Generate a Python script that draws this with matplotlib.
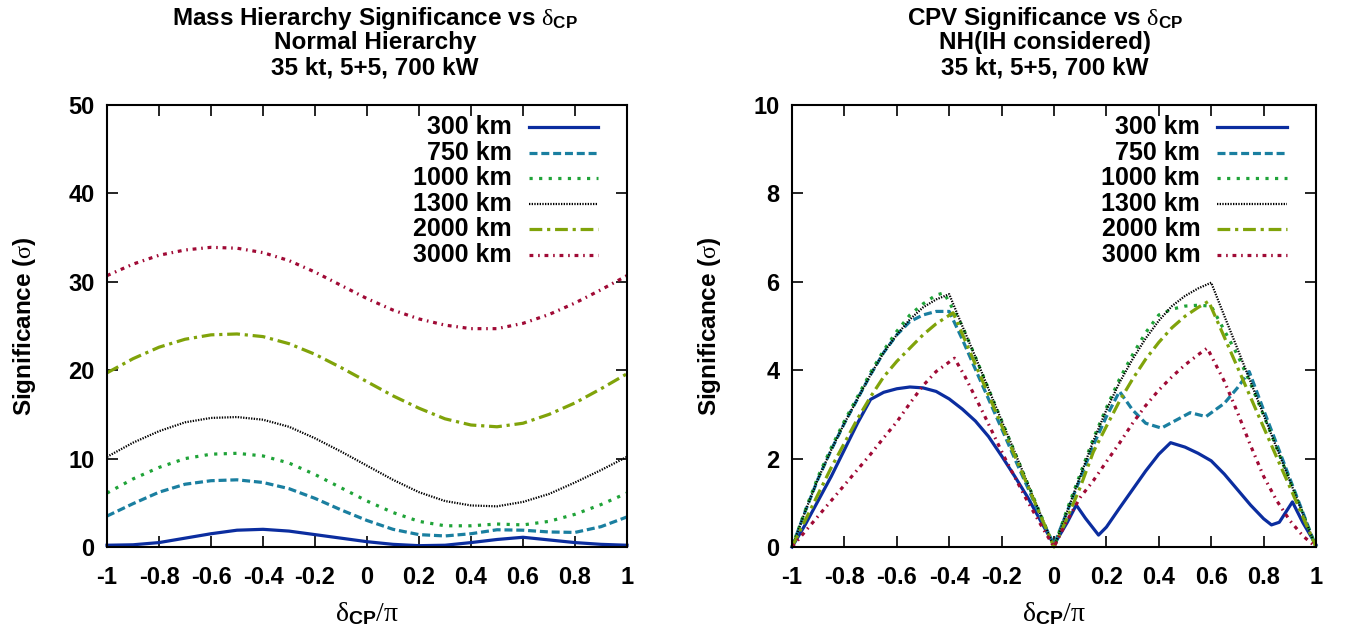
import matplotlib
matplotlib.use("Agg")
import matplotlib.pyplot as plt

plt.rcParams['font.family'] = ['Liberation Sans', 'DejaVu Sans']
plt.rcParams['font.weight'] = 'bold'
plt.rcParams['mathtext.fontset'] = 'custom'
plt.rcParams['mathtext.rm'] = 'Liberation Serif:weight=regular'
plt.rcParams['mathtext.it'] = 'Liberation Serif:weight=regular'
plt.rcParams['mathtext.bf'] = 'Liberation Sans:bold'

# baselines shown in both panels
baselines = ['300 km', '750 km', '1000 km', '1300 km', '2000 km', '3000 km']
xtick_vals = [-1, -0.8, -0.6, -0.4, -0.2, 0, 0.2, 0.4, 0.6, 0.8, 1]
xtick_labels = ['-1', '-0.8', '-0.6', '-0.4', '-0.2', '0', '0.2', '0.4', '0.6', '0.8', '1']

# ---- left panel: mass hierarchy significance ----
mh_dcp = [-1, -0.9, -0.8, -0.7, -0.6, -0.5, -0.4, -0.3, -0.2, -0.1, 0,
          0.1, 0.2, 0.3, 0.4, 0.5, 0.6, 0.7, 0.8, 0.9, 1]
mh_300 = [0.2, 0.25, 0.5, 1.0, 1.5, 1.9, 2.0, 1.8, 1.4, 1.0, 0.6,
          0.3, 0.15, 0.2, 0.5, 0.85, 1.1, 0.8, 0.5, 0.3, 0.2]
mh_750 = [3.5, 4.9, 6.2, 7.1, 7.5, 7.6, 7.3, 6.6, 5.5, 4.2, 3.0,
          2.0, 1.4, 1.25, 1.5, 1.95, 1.9, 1.7, 1.65, 2.3, 3.4]
mh_1000 = [6.1, 7.7, 9.0, 10.0, 10.5, 10.6, 10.3, 9.5, 8.2, 6.7, 5.2,
           3.9, 2.9, 2.4, 2.4, 2.6, 2.5, 2.9, 3.7, 4.8, 6.1]
mh_1300 = [10.2, 11.8, 13.1, 14.1, 14.6, 14.7, 14.4, 13.6, 12.3, 10.8, 9.2,
           7.6, 6.2, 5.2, 4.7, 4.6, 5.1, 6.0, 7.3, 8.7, 10.2]
mh_2000 = [19.7, 21.3, 22.6, 23.5, 24.0, 24.1, 23.8, 23.0, 21.8, 20.3, 18.7,
           17.1, 15.7, 14.5, 13.8, 13.6, 14.0, 15.0, 16.3, 17.9, 19.6]
mh_3000 = [30.7, 32.0, 33.0, 33.6, 33.9, 33.8, 33.3, 32.4, 31.1, 29.6, 28.1,
           26.8, 25.8, 25.1, 24.7, 24.7, 25.3, 26.3, 27.6, 29.1, 30.7]

# ---- right panel: CPV significance ----
cpv_x_300 = [-1, -0.95, -0.9, -0.85, -0.8, -0.75, -0.7, -0.65, -0.6, -0.55, -0.5,
             -0.45, -0.4, -0.35, -0.3, -0.25, -0.2, -0.15, -0.1, -0.05, 0,
             0.05, 0.085, 0.12, 0.17, 0.2, 0.25, 0.3, 0.35, 0.4, 0.445, 0.5,
             0.55, 0.6, 0.65, 0.7, 0.75, 0.8, 0.83, 0.86, 0.91, 0.95, 1]
cpv_300 = [0, 0.5, 1.05, 1.6, 2.2, 2.8, 3.34, 3.5, 3.58, 3.62, 3.6,
           3.52, 3.35, 3.12, 2.85, 2.5, 2.06, 1.6, 1.12, 0.58, 0.05,
           0.55, 0.95, 0.65, 0.27, 0.45, 0.88, 1.3, 1.72, 2.1, 2.36, 2.26,
           2.12, 1.95, 1.65, 1.3, 0.95, 0.64, 0.5, 0.56, 1.02, 0.55, 0.05]

cpv_x_750 = [-1, -0.95, -0.9, -0.85, -0.8, -0.75, -0.7, -0.65, -0.6, -0.55, -0.5,
             -0.45, -0.4, -0.35, -0.3, -0.25, -0.2, -0.15, -0.1, -0.05, 0,
             0.05, 0.1, 0.15, 0.2, 0.25, 0.3, 0.35, 0.41, 0.46, 0.52, 0.58,
             0.65, 0.7, 0.745, 0.8, 0.85, 0.9, 0.95, 1]
cpv_750 = [0, 0.8, 1.55, 2.2, 2.8, 3.35, 3.9, 4.4, 4.8, 5.1, 5.25,
           5.33, 5.33, 4.7, 4.02, 3.35, 2.68, 2.0, 1.34, 0.67, 0.05,
           0.8, 1.55, 2.3, 2.95, 3.52, 3.1, 2.8, 2.69, 2.85, 3.04, 2.95,
           3.25, 3.6, 3.97, 3.1, 2.33, 1.55, 0.78, 0]

cpv_x_1000 = [-1, -0.95, -0.9, -0.85, -0.8, -0.75, -0.7, -0.65, -0.6, -0.55, -0.5,
              -0.45, -0.42, -0.35, -0.3, -0.25, -0.2, -0.15, -0.1, -0.05, 0,
              0.05, 0.1, 0.15, 0.2, 0.25, 0.3, 0.35, 0.4, 0.45, 0.5,
              0.55, 0.6, 0.65, 0.7, 0.75, 0.8, 0.85, 0.9, 0.95, 1]
cpv_1000 = [0, 0.82, 1.6, 2.25, 2.85, 3.4, 3.95, 4.45, 4.88, 5.25, 5.5,
            5.7, 5.75, 5.0, 4.3, 3.58, 2.86, 2.15, 1.43, 0.72, 0,
            0.85, 1.65, 2.45, 3.15, 3.8, 4.35, 4.85, 5.25, 5.38, 5.45,
            5.47, 5.45, 4.9, 4.35, 3.7, 2.98, 2.24, 1.5, 0.75, 0]

cpv_x_1300 = [-1, -0.95, -0.9, -0.85, -0.8, -0.75, -0.7, -0.65, -0.6, -0.55, -0.5,
              -0.45, -0.4, -0.35, -0.3, -0.25, -0.2, -0.15, -0.1, -0.05, 0,
              0.05, 0.1, 0.15, 0.2, 0.25, 0.3, 0.35, 0.4, 0.45, 0.5,
              0.55, 0.6, 0.65, 0.7, 0.75, 0.8, 0.85, 0.9, 0.95, 1]
cpv_1300 = [0, 0.8, 1.55, 2.2, 2.8, 3.35, 3.9, 4.4, 4.8, 5.15, 5.42,
            5.6, 5.72, 5.0, 4.3, 3.58, 2.86, 2.15, 1.43, 0.72, 0,
            0.8, 1.6, 2.4, 3.1, 3.72, 4.25, 4.72, 5.12, 5.45, 5.68,
            5.85, 5.98, 5.23, 4.49, 3.74, 2.99, 2.24, 1.5, 0.75, 0]

cpv_x_2000 = [-1, -0.95, -0.9, -0.85, -0.8, -0.75, -0.7, -0.65, -0.6, -0.55, -0.5,
              -0.45, -0.385, -0.35, -0.3, -0.25, -0.2, -0.15, -0.1, -0.05, 0,
              0.05, 0.1, 0.15, 0.2, 0.25, 0.3, 0.35, 0.4, 0.45, 0.5,
              0.55, 0.59, 0.65, 0.7, 0.75, 0.8, 0.85, 0.9, 0.95, 1]
cpv_2000 = [0, 0.6, 1.2, 1.8, 2.35, 2.9, 3.4, 3.85, 4.2, 4.5, 4.8,
            5.05, 5.3, 4.82, 4.13, 3.44, 2.75, 2.07, 1.38, 0.69, 0,
            0.65, 1.35, 2.15, 2.73, 3.3, 3.8, 4.25, 4.63, 4.96, 5.22,
            5.42, 5.56, 4.75, 4.07, 3.39, 2.71, 2.03, 1.36, 0.68, 0]

cpv_x_3000 = [-1, -0.95, -0.9, -0.85, -0.8, -0.75, -0.7, -0.65, -0.6, -0.55, -0.5,
              -0.45, -0.38, -0.34, -0.27, -0.19, -0.11, -0.05, 0,
              0.05, 0.1, 0.15, 0.2, 0.25, 0.3, 0.35, 0.4, 0.45, 0.5,
              0.55, 0.585, 0.65, 0.7, 0.75, 0.8, 0.85, 0.9, 0.95, 1]
cpv_3000 = [0, 0.35, 0.7, 1.05, 1.4, 1.75, 2.1, 2.47, 2.83, 3.25, 3.65,
            3.97, 4.27, 3.86, 3.03, 2.04, 1.13, 0.5, 0,
            0.6, 1.12, 1.5, 1.93, 2.35, 2.8, 3.2, 3.55, 3.85, 4.12,
            4.35, 4.5, 3.75, 3.05, 2.3, 1.6, 1.05, 0.6, 0.25, 0]

# line styles, gnuplot-like
styles = [
    dict(color='#0b2d9f', lw=2.3, ls='-'),
    dict(color='#1a7fa0', lw=2.3, ls=(0, (2.5, 1.2))),
    dict(color='#1fa338', lw=2.3, ls=(0, (1, 2))),
    dict(color='#000000', lw=1.6, ls=(0, (0.6, 0.6))),
    dict(color='#80a30a', lw=2.3, ls=(0, (4, 1.5, 1, 1.5))),
    dict(color='#a00a35', lw=2.3, ls=(0, (1.2, 1.5, 0.5, 1.5))),
]

fig = plt.figure(figsize=(13.48, 6.35), dpi=100)
ax1 = fig.add_axes([107 / 1348, 88 / 635, 520 / 1348, 442 / 635])
ax2 = fig.add_axes([792 / 1348, 88 / 635, 524 / 1348, 442 / 635])


def style_axes(ax, ymax, ystep):
    ax.set_xlim(-1, 1)
    ax.set_ylim(0, ymax)
    ax.set_xticks(xtick_vals)
    ax.set_xticklabels(xtick_labels)
    ax.set_yticks(range(0, ymax + 1, ystep))
    ax.tick_params(direction='in', length=8, width=1.2, top=True, right=True,
                   labelsize=17)
    ax.tick_params(axis='x', pad=14)
    ax.tick_params(axis='y', pad=9)
    for lab in ax.get_xticklabels() + ax.get_yticklabels():
        lab.set_fontweight('bold')
    for sp in ax.spines.values():
        sp.set_linewidth(1.5)
    ax.set_xlabel(r'$\delta_{\mathbf{CP}}/\pi$', fontsize=20, labelpad=8)
    ax.set_ylabel(r'Significance ($\sigma$)', fontsize=17.5, fontweight='bold', labelpad=22)


def draw_key(ax):
    for i, (lab, st) in enumerate(zip(baselines, styles)):
        y = 0.950 - i * 0.0577
        ax.text(0.779, y, lab, transform=ax.transAxes, ha='right', va='center',
                fontsize=18, fontweight='bold')
        ax.plot([0.812, 0.944], [y, y], transform=ax.transAxes, **st)


mh_series = [mh_300, mh_750, mh_1000, mh_1300, mh_2000, mh_3000]
for vals, st in zip(mh_series, styles):
    ax1.plot(mh_dcp, vals, clip_on=False, **st)
style_axes(ax1, 50, 10)
draw_key(ax1)

cpv_series = [(cpv_x_300, cpv_300), (cpv_x_750, cpv_750), (cpv_x_1000, cpv_1000),
              (cpv_x_1300, cpv_1300), (cpv_x_2000, cpv_2000), (cpv_x_3000, cpv_3000)]
for (xs, vals), st in zip(cpv_series, styles):
    ax2.plot(xs, vals, clip_on=False, **st)
style_axes(ax2, 10, 2)
draw_key(ax2)

# titles, three lines each
left_title = [r'Mass Hierarchy Significance vs $\delta_{\mathbf{CP}}$',
              'Normal Hierarchy', '35 kt, 5+5, 700 kW']
right_title = [r'CPV Significance vs $\delta_{\mathbf{CP}}$',
               'NH(IH considered)', '35 kt, 5+5, 700 kW']
for i, (lt, rt) in enumerate(zip(left_title, right_title)):
    y = 1 - (18 + 25 * i) / 635
    fig.text(375 / 1348, y, lt, ha='center', va='center', fontsize=17.5, fontweight='bold')
    fig.text(1045 / 1348, y, rt, ha='center', va='center', fontsize=17.5, fontweight='bold')

fig.savefig('out.png', dpi=100)
